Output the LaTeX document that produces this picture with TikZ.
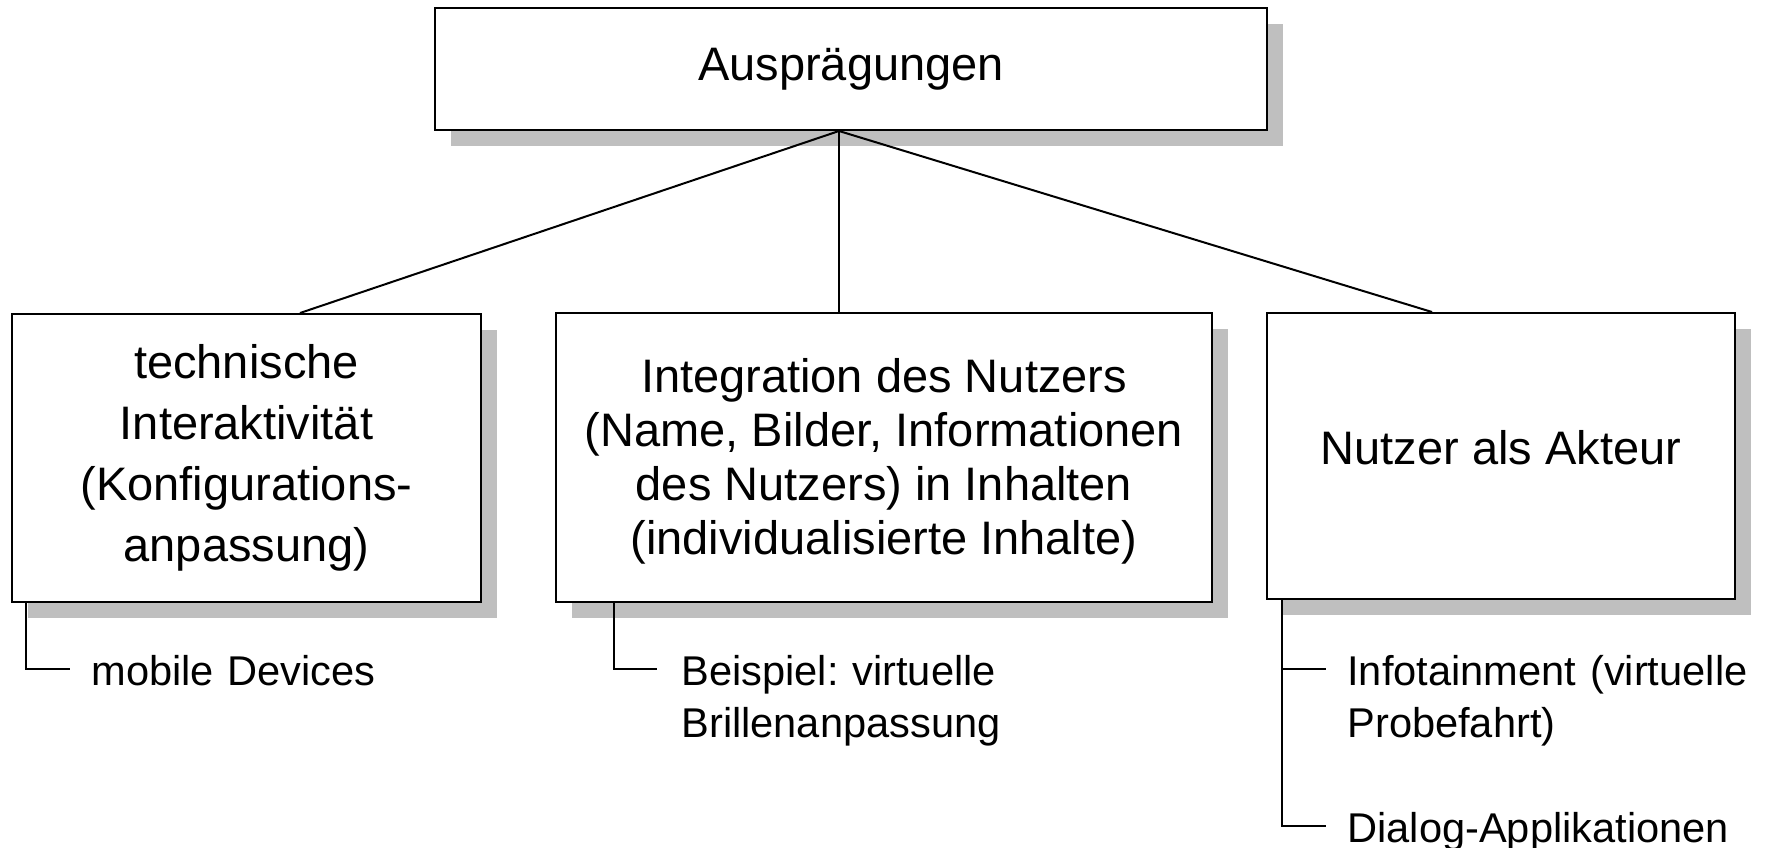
\documentclass[tikz,border=0pt]{standalone}
\usepackage{fontspec}
\setmainfont{Liberation Sans}
\usetikzlibrary{shadows,calc}
\definecolor{shadowgray}{RGB}{191,191,191}
\frenchspacing
\tikzset{
  box/.style={draw=black, line width=1pt, fill=white, inner sep=0pt, align=center,
    font=\fontsize{23.5}{30.5}\selectfont,
    drop shadow={shadow xshift=8pt, shadow yshift=-8pt, fill=shadowgray, opacity=1}},
  conn/.style={line width=1pt},
  bracket/.style={line width=0.8pt},
  item/.style={anchor=base west, inner sep=0pt, align=left, text width=220pt,
    font=\fontsize{20.8}{26}\selectfont},
}
\begin{document}
\begin{tikzpicture}[x=0.5pt,y=-0.5pt]
\useasboundingbox (0,0) rectangle (1770,847);
\node[box, minimum width=416pt, minimum height=61pt] (top) at (851,69) {Ausprägungen};
\node[box, minimum width=234.5pt, minimum height=144pt] (b1) at (246.5,458)
  {technische\\Interaktivität\\(Konfigurations-\\anpassung)};
\node[box, minimum width=328pt, minimum height=144.5pt, font=\fontsize{23.5}{27}\selectfont] (b2) at (884,457.5)
  {\rule{0pt}{21pt}Integration des Nutzers\\(Name, Bilder, Informationen\\des Nutzers) in Inhalten\\(individualisierte Inhalte)};
\node[box, minimum width=234pt, minimum height=143pt] (b3) at (1501,456)
  {\raisebox{4pt}[\height][\depth]{Nutzer als Akteur}};

\path (top.south) ++(-12,0) coordinate (r);
\path (b1.north) ++(53.5,0) coordinate (e1);
\path (b2.north) ++(-45,0) coordinate (e2);
\path (b3.north) ++(-69,0) coordinate (e3);
\draw[conn] (r) -- (e1);
\draw[conn] (r) -- (e2);
\draw[conn] (r) -- (e3);

\path (b1.south west) ++(15,0) coordinate (s1);
\path (b2.south west) ++(59,0) coordinate (s2);
\path (b3.south west) ++(16,0) coordinate (s3);

\node[item] (t1) at (91,685) {mobile Devices};
\node[item] (t2) at (681,685) {Beispiel: virtuelle\\Brillenanpassung};
\node[item] (t3) at (1347,685) {Infotainment (virtuelle\\Probefahrt)};
\node[item] (t4) at (1347,842) {Dialog-Applikationen};

\draw[bracket] (s1) |- ++(44,66);
\draw[bracket] (s2) |- ++(43,66);
\draw[bracket] (s3) |- ++(44,69);
\draw[bracket] (s3) |- ++(44,226);
\end{tikzpicture}
\end{document}
